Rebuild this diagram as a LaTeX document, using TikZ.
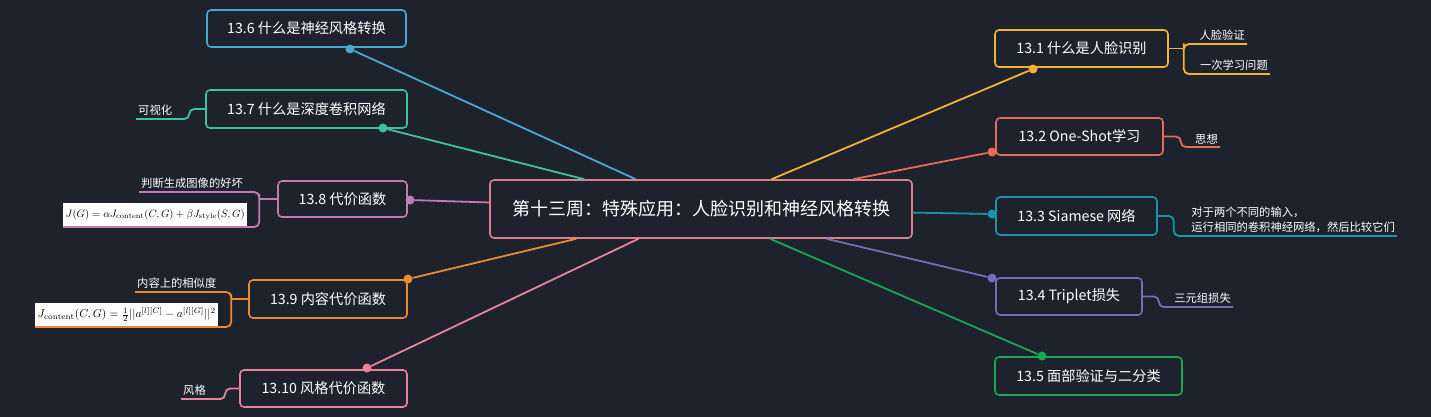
\documentclass[tikz,border=0pt]{standalone}
\usepackage{fontspec}
\usepackage{amsmath}
\usepackage{graphicx}
\usepackage{tikz}
\usepackage{xcolor}
\newfontfamily\cjk{Noto Sans CJK SC}
\definecolor{MM_Bg}{HTML}{1E222C}
\definecolor{MM_Hub}{HTML}{D9808C}
\definecolor{MM_Blue}{HTML}{46A9D1}
\definecolor{MM_Teal}{HTML}{3FC1A5}
\definecolor{MM_Mauve}{HTML}{C27BB3}
\definecolor{MM_Orange}{HTML}{E98B2F}
\definecolor{MM_Rose}{HTML}{E9829A}
\definecolor{MM_Yellow}{HTML}{F2B430}
\definecolor{MM_Red}{HTML}{E56B5A}
\definecolor{MM_Cyan}{HTML}{1597A8}
\definecolor{MM_Violet}{HTML}{6C72B5}
\definecolor{MM_Green}{HTML}{14A857}

\begin{document}
\begin{tikzpicture}[x=1pt, y=-1pt,
    hubbox/.style={draw=MM_Hub, fill=MM_Bg, rounded corners=4pt, line width=1.6pt, text=white, font=\cjk\fontsize{18}{22}\selectfont, inner sep=0pt},
    topic/.style={draw, fill=MM_Bg, rounded corners=4pt, line width=1.6pt, text=white, font=\cjk\fontsize{14.2}{16}\selectfont, inner sep=0pt},
    sub/.style={text=white, font=\cjk\fontsize{11.3}{15}\selectfont, inner xsep=2pt, inner ysep=3pt},
    formula/.style={fill=white, text=black, inner sep=0pt},
    dot/.style={circle, fill, inner sep=0pt, minimum size=9pt},
    link/.style={line width=1.8pt},
    bracket/.style={line width=1.8pt, rounded corners=5pt}]
    \fill[MM_Bg] (0,0) rectangle (1431,417);
    \useasboundingbox (0,0) rectangle (1431,417);

    % Centre
    \node[hubbox, minimum width=422pt, minimum height=58pt] (hub) at (701,209) {第十三周：特殊应用：人脸识别和神经风格转换};

    % Left branches
    \node[topic, draw=MM_Blue, minimum width=199pt, minimum height=37pt] (b6) at (306.5,28.5) {13.6 什么是神经风格转换};
    \node[topic, draw=MM_Teal, minimum width=201pt, minimum height=38pt] (b7) at (306.5,109) {13.7 什么是深度卷积网络};
    \node[topic, draw=MM_Mauve, minimum width=129pt, minimum height=36pt] (b8) at (342.5,199) {13.8 代价函数};
    \node[topic, draw=MM_Orange, minimum width=158pt, minimum height=38pt] (b9) at (328,299) {13.9 内容代价函数};
    \node[topic, draw=MM_Rose, minimum width=167pt, minimum height=37pt] (b10) at (323.5,388.5) {13.10 风格代价函数};

    % Right branches
    \node[topic, draw=MM_Yellow, minimum width=173pt, minimum height=37pt] (b1) at (1081.5,48.5) {13.1 什么是人脸识别};
    \node[topic, draw=MM_Red, minimum width=167pt, minimum height=37pt] (b2) at (1079.5,136.5) {13.2 One-Shot学习};
    \node[topic, draw=MM_Cyan, minimum width=161pt, minimum height=38pt] (b3) at (1076.5,216) {13.3 Siamese 网络};
    \node[topic, draw=MM_Violet, minimum width=146pt, minimum height=37pt] (b4) at (1069,296.5) {13.4 Triplet损失};
    \node[topic, draw=MM_Green, minimum width=187pt, minimum height=38pt] (b5) at (1088.5,376) {13.5 面部验证与二分类};

    % Dots
    \node[dot, MM_Blue] (d6) at (350,49) {};
    \node[dot, MM_Teal] (d7) at (383,128) {};
    \node[dot, MM_Mauve] (d8) at (410,200) {};
    \node[dot, MM_Orange] (d9) at (408,279) {};
    \node[dot, MM_Rose] (d10) at (367,368) {};
    \node[dot, MM_Yellow] (d1) at (1033,69) {};
    \node[dot, MM_Red] (d2) at (992,152) {};
    \node[dot, MM_Cyan] (d3) at (992,214) {};
    \node[dot, MM_Violet] (d4) at (992,278) {};
    \node[dot, MM_Green] (d5) at (1042,356) {};

    % Links to centre
    \draw[link, MM_Blue] (hub) -- (d6);
    \draw[link, MM_Teal] (hub) -- (d7);
    \draw[link, MM_Mauve] (hub) -- (d8);
    \draw[link, MM_Orange] (hub) -- (d9);
    \draw[link, MM_Rose] (hub) -- (d10);
    \draw[link, MM_Yellow] (hub) -- (d1);
    \draw[link, MM_Red] (hub) -- (d2);
    \draw[link, MM_Cyan] (hub) -- (d3);
    \draw[link, MM_Violet] (hub) -- (d4);
    \draw[link, MM_Green] (hub) -- (d5);

    % Left leaves
    \node[sub, anchor=south west] (c7) at (136,119) {可视化};
    \node[sub, anchor=south west] (c8a) at (139,192) {判断生成图像的好坏};
    \node[formula, anchor=south west, minimum width=184pt, minimum height=24pt] (c8b) at (63,227) {\resizebox{179pt}{!}{$J(G)=\alpha J_{\mathrm{content}}(C,G)+\beta J_{\mathrm{style}}(S,G)$}};
    \node[sub, anchor=south west] (c9a) at (135,292) {内容上的相似度};
    \node[formula, anchor=south west, minimum width=183pt, minimum height=24pt] (c9b) at (35,327) {\resizebox{178pt}{!}{$J_{\mathrm{content}}(C,G)=\frac{1}{2}||a^{[l][C]}-a^{[l][G]}||^2$}};
    \node[sub, anchor=south west] (c10) at (181,399) {风格};

    \coordinate (j8) at ([xshift=-18pt]b8.west);
    \coordinate (j9) at ([xshift=-17pt]b9.west);
    \draw[bracket, MM_Teal] (b7.west) -- ++(-16,0) |- (c7.south west);
    \draw[bracket, MM_Mauve] (c8a.south west) -| (j8) |- (c8b.south west);
    \draw[link, MM_Mauve] (b8.west) -- (j8);
    \draw[bracket, MM_Orange] (c9a.south west) -| (j9) |- (c9b.south west);
    \draw[link, MM_Orange] (b9.west) -- (j9);
    \draw[bracket, MM_Rose] (b10.west) -- ++(-14,0) |- (c10.south west);

    % Right leaves
    \node[sub, anchor=south east] (c1a) at (1247,44) {人脸验证};
    \node[sub, anchor=south east] (c1b) at (1270,74) {一次学习问题};
    \node[sub, anchor=south east] (c2) at (1220,147) {思想};
    \node[sub, anchor=south east, align=left] (c3) at (1397,236) {对于两个不同的输入，\\运行相同的卷积神经网络，然后比较它们};
    \node[sub, anchor=south east] (c4) at (1233,307) {三元组损失};

    \coordinate (j1) at ([xshift=15pt]b1.east);
    \draw[bracket, MM_Yellow] (c1a.south east) -| (j1) |- (c1b.south east);
    \draw[link, MM_Yellow] (b1.east) -- (j1);
    \draw[bracket, MM_Red] (b2.east) -- ++(17,0) |- (c2.south east);
    \draw[bracket, MM_Cyan] (b3.east) -- ++(16,0) |- (c3.south east);
    \draw[bracket, MM_Violet] (b4.east) -- ++(16,0) |- (c4.south east);
\end{tikzpicture}
\end{document}
